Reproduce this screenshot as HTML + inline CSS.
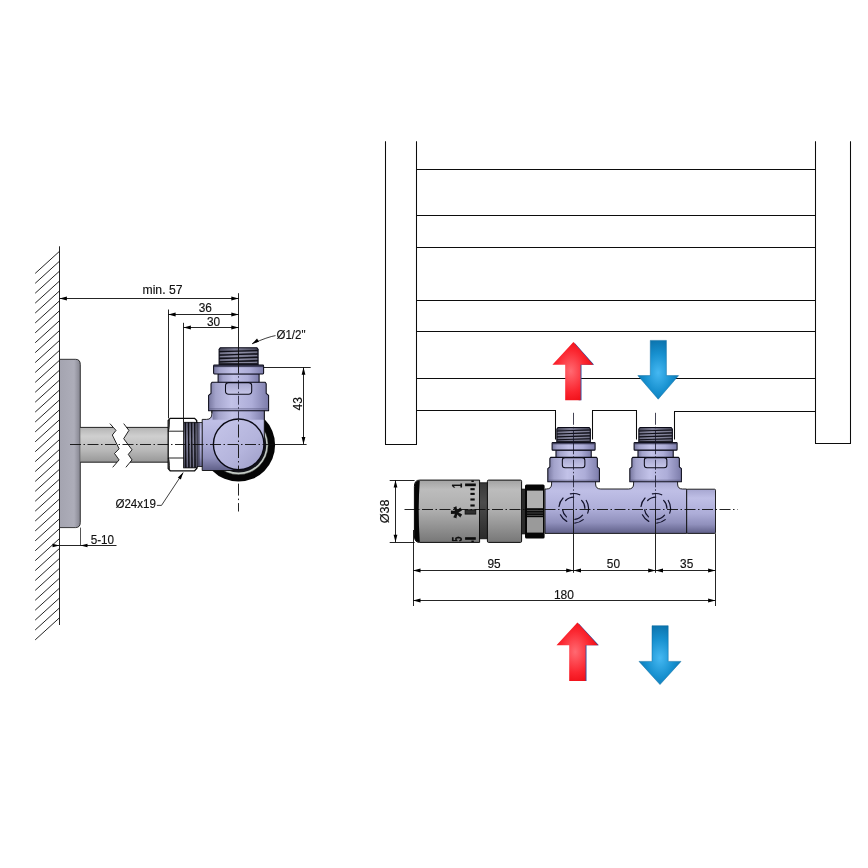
<!DOCTYPE html>
<html><head><meta charset="utf-8"><title>Rozměry ventilu</title>
<style>
html,body{margin:0;padding:0;background:#fff;}
svg{display:block;}
text{font-family:"Liberation Sans","DejaVu Sans",sans-serif;fill:#111;stroke:#111;stroke-width:0.15px;filter:grayscale(1);}
</style></head><body>
<svg width="868" height="868" viewBox="0 0 868 868">
<defs>
<linearGradient id="lavH" x1="0" y1="0" x2="1" y2="0">
 <stop offset="0" stop-color="#77779f"/><stop offset="0.12" stop-color="#a3a3cb"/><stop offset="0.38" stop-color="#c2c2e8"/><stop offset="0.72" stop-color="#adadd8"/><stop offset="1" stop-color="#7c7caa"/>
</linearGradient>
<linearGradient id="lavV" x1="0" y1="0" x2="0" y2="1">
 <stop offset="0" stop-color="#a6a6d0"/><stop offset="0.2" stop-color="#bfbfe6"/><stop offset="0.55" stop-color="#adadd8"/><stop offset="0.8" stop-color="#9090bc"/><stop offset="1" stop-color="#5f5f88"/>
</linearGradient>
<linearGradient id="slotV" x1="0" y1="0" x2="0" y2="1">
 <stop offset="0" stop-color="#a6a6cf"/><stop offset="1" stop-color="#c6c6e8"/>
</linearGradient>
<linearGradient id="capG" x1="0" y1="0" x2="1" y2="1">
 <stop offset="0" stop-color="#c6c6ea"/><stop offset="0.6" stop-color="#b4b4dc"/><stop offset="1" stop-color="#9c9cc6"/>
</linearGradient>
<linearGradient id="thrH" x1="0" y1="0" x2="1" y2="0">
 <stop offset="0" stop-color="#454556"/><stop offset="0.4" stop-color="#7e7e96"/><stop offset="1" stop-color="#454556"/>
</linearGradient>
<linearGradient id="thrV" x1="0" y1="0" x2="0" y2="1">
 <stop offset="0" stop-color="#454556"/><stop offset="0.4" stop-color="#7a7a92"/><stop offset="1" stop-color="#3f3f50"/>
</linearGradient>
<linearGradient id="pipeV" x1="0" y1="0" x2="0" y2="1">
 <stop offset="0" stop-color="#b4b4b4"/><stop offset="0.25" stop-color="#cfcfcf"/><stop offset="0.65" stop-color="#b9b9b9"/><stop offset="1" stop-color="#979797"/>
</linearGradient>
<linearGradient id="plateH" x1="0" y1="0" x2="1" y2="0">
 <stop offset="0" stop-color="#a4a4b0"/><stop offset="0.7" stop-color="#adadb9"/><stop offset="1" stop-color="#84848f"/>
</linearGradient>
<linearGradient id="headV" x1="0" y1="0" x2="0" y2="1">
 <stop offset="0" stop-color="#a2a2a2"/><stop offset="0.15" stop-color="#bcbcbc"/><stop offset="0.5" stop-color="#adadad"/><stop offset="1" stop-color="#777"/>
</linearGradient>
<linearGradient id="bandV" x1="0" y1="0" x2="0" y2="1">
 <stop offset="0" stop-color="#383838"/><stop offset="0.35" stop-color="#4c4c4c"/><stop offset="1" stop-color="#2a2a2a"/>
</linearGradient>
<linearGradient id="redH" x1="0" y1="0" x2="1" y2="0">
 <stop offset="0" stop-color="#ee0a12"/><stop offset="0.45" stop-color="#ff5560"/><stop offset="1" stop-color="#e80008"/>
</linearGradient>
<radialGradient id="redR" cx="0.45" cy="0.5" r="0.6">
 <stop offset="0" stop-color="#ff6a72"/><stop offset="0.6" stop-color="#fb2630"/><stop offset="1" stop-color="#ec0810"/>
</radialGradient>
<radialGradient id="blueR" cx="0.5" cy="0.55" r="0.6">
 <stop offset="0" stop-color="#45b8f2"/><stop offset="0.55" stop-color="#1790cf"/><stop offset="1" stop-color="#0a6fa8"/>
</radialGradient>
</defs>
<rect width="868" height="868" fill="#fff"/>

<g id="wall">
<path d="M59.5 251.30 L35.2 273.40 M59.5 261.20 L35.2 283.31 M59.5 271.11 L35.2 293.21 M59.5 281.01 L35.2 303.12 M59.5 290.92 L35.2 313.02 M59.5 300.82 L35.2 322.93 M59.5 310.73 L35.2 332.83 M59.5 320.63 L35.2 342.74 M59.5 330.54 L35.2 352.64 M59.5 340.44 L35.2 362.55 M59.5 350.35 L35.2 372.45 M59.5 360.25 L35.2 382.36 M59.5 370.16 L35.2 392.26 M59.5 380.06 L35.2 402.17 M59.5 389.97 L35.2 412.07 M59.5 399.88 L35.2 421.98 M59.5 409.78 L35.2 431.88 M59.5 419.69 L35.2 441.79 M59.5 429.59 L35.2 451.69 M59.5 439.50 L35.2 461.60 M59.5 449.40 L35.2 471.50 M59.5 459.31 L35.2 481.41 M59.5 469.21 L35.2 491.31 M59.5 479.12 L35.2 501.22 M59.5 489.02 L35.2 511.12 M59.5 498.92 L35.2 521.02 M59.5 508.83 L35.2 530.93 M59.5 518.74 L35.2 540.84 M59.5 528.64 L35.2 550.74 M59.5 538.55 L35.2 560.65 M59.5 548.45 L35.2 570.55 M59.5 558.36 L35.2 580.46 M59.5 568.26 L35.2 590.36 M59.5 578.16 L35.2 600.26 M59.5 588.07 L35.2 610.17 M59.5 597.97 L35.2 620.07 M59.5 607.88 L35.2 629.98 M59.5 617.78 L35.2 639.88" stroke="#0c0c0c" stroke-width="0.9" fill="none"/>
<line x1="59.50" y1="246.30" x2="59.50" y2="625.00" stroke="#0c0c0c" stroke-width="0.9" />
</g>
<path d="M59.5 359.3 H75.5 Q80.3 359.3 80.3 364.5 V522.5 Q80.3 527.6 75.5 527.6 H59.5 Z" fill="url(#plateH)" stroke="#0c0c0c" stroke-width="0.8"/>
<path d="M80.3 427.4 H113 L116 430.4 L112.3 435 L119.1 448.8 L114.5 453.5 L119.1 459.9 L117 462.2 H80.3 Z" fill="url(#pipeV)" stroke="none"/>
<path d="M126.4 427.4 H168.2 V462.2 H130 L132 459.9 L128.3 454.4 L132 449.8 L123.7 438.7 L128.9 430.4 Z" fill="url(#pipeV)" stroke="none"/>
<path d="M80.3 427.4 H113 M80.3 462.2 H117 M126.4 427.4 H168.2 M130 462.2 H168.2" stroke="#0c0c0c" stroke-width="0.9" fill="none"/>
<path d="M109.9 423.6 L116 430.4 L112.3 435 L119.1 448.8 L114.5 453.5 L119.1 459.9 L112.7 467.3" stroke="#0c0c0c" stroke-width="0.9" fill="none"/>
<path d="M123.7 423.6 L128.9 430.4 L123.7 438.7 L132 449.8 L128.3 454.4 L132 459.9 L125.9 467.3" stroke="#0c0c0c" stroke-width="0.9" fill="none"/>
<path d="M170.2 418.4 H194.6 L196.7 420.6 V468.6 L194.6 470.8 H170.2 L168.2 468.6 V420.6 Z" fill="#fff" stroke="#0c0c0c" stroke-width="1.3"/>
<path d="M168.2 431.2 H184 M168.2 458 H184 M168.2 431.2 Q169.6 429 169.4 420 M168.2 458 Q169.6 460 169.4 469.4" stroke="#0c0c0c" stroke-width="0.9" fill="none"/>
<rect x="183.6" y="422.3" width="13.6" height="45.6" fill="url(#thrV)" stroke="#0c0c0c" stroke-width="0.8"/>
<line x1="185.4" y1="422.3" x2="185.8" y2="467.9" stroke="#101016" stroke-width="1.4"/>
<line x1="186.95000000000002" y1="423.4" x2="187.35" y2="466.9" stroke="#8c8ca4" stroke-width="0.8" opacity="0.75"/>
<line x1="188.5" y1="422.3" x2="188.9" y2="467.9" stroke="#101016" stroke-width="1.4"/>
<line x1="190.05" y1="423.4" x2="190.45" y2="466.9" stroke="#8c8ca4" stroke-width="0.8" opacity="0.75"/>
<line x1="191.6" y1="422.3" x2="192.0" y2="467.9" stroke="#101016" stroke-width="1.4"/>
<line x1="193.15" y1="423.4" x2="193.54999999999998" y2="466.9" stroke="#8c8ca4" stroke-width="0.8" opacity="0.75"/>
<line x1="194.7" y1="422.3" x2="195.1" y2="467.9" stroke="#101016" stroke-width="1.4"/>
<line x1="196.25" y1="423.4" x2="196.64999999999998" y2="466.9" stroke="#8c8ca4" stroke-width="0.8" opacity="0.75"/>
<rect x="197.2" y="422.4" width="5.2" height="44.2" fill="url(#lavV)" stroke="#0c0c0c" stroke-width="0.8"/>
<rect x="197.5" y="422.8" width="2.2" height="43.4" fill="#3c3c50" opacity="0.75"/>
<circle cx="238.5" cy="445.0" r="36.6" fill="#050505"/>
<circle cx="238.5" cy="445.0" r="29.7" fill="#c3cbc4" stroke="#1a1a1a" stroke-width="0.5"/>
<circle cx="238.6" cy="444.8" r="27.7" fill="#15151c"/>
<path d="M202.2 419.4 H206.6 Q211.9 419.4 211.9 413.5 V409 H264.3 V444.3 A25.6 25.6 0 0 1 238.7 469.9 L234 470.5 H202.2 Z" fill="url(#lavV)" stroke="#0c0c0c" stroke-width="0.9" stroke-linejoin="round"/>
<g transform="translate(238.60 347.70) scale(1.0)" stroke="#0b0b18" stroke-width="1.05" stroke-linejoin="round">
<rect x="-26" y="60" width="52" height="12.0" fill="url(#lavH)" stroke="none"/>
<path d="M-18.2 0 H18.2 L19.5 1.6 V17.4 H-19.5 V1.6 Z" fill="url(#thrH)"/>
<path d="M-19.5 4.0 L19.5 2.8" stroke="#101018" stroke-width="1.3" fill="none"/>
<path d="M-18.5 5.6 L18.5 4.4" stroke="#9a9ab2" stroke-width="0.9" fill="none" opacity="0.8"/>
<path d="M-19.5 7.4 L19.5 6.2" stroke="#101018" stroke-width="1.3" fill="none"/>
<path d="M-18.5 9.0 L18.5 7.8" stroke="#9a9ab2" stroke-width="0.9" fill="none" opacity="0.8"/>
<path d="M-19.5 10.8 L19.5 9.6" stroke="#101018" stroke-width="1.3" fill="none"/>
<path d="M-18.5 12.4 L18.5 11.2" stroke="#9a9ab2" stroke-width="0.9" fill="none" opacity="0.8"/>
<path d="M-19.5 14.2 L19.5 13.0" stroke="#101018" stroke-width="1.3" fill="none"/>
<path d="M-18.5 15.8 L18.5 14.6" stroke="#9a9ab2" stroke-width="0.9" fill="none" opacity="0.8"/>
<rect x="-19.5" y="15.4" width="39" height="2.2" fill="#1d1d26" stroke="none"/>
<rect x="-20.5" y="26" width="41" height="9" fill="url(#lavH)"/>
<rect x="-25" y="17.4" width="50" height="8.8" rx="0.8" fill="url(#lavH)"/>
<rect x="-24.6" y="17.6" width="49.2" height="1.8" fill="#2c2c44" stroke="none" opacity="0.8"/>
<path d="M-26.6 34.6 H26.6 L27.6 36 V45.6 L30 47.6 V63 H-30 V47.6 L-27.6 45.6 V36 Z" fill="url(#lavH)"/>
<path d="M-30 61.2 H30" stroke="#55557a" stroke-width="0.7" fill="none"/>
<rect x="-13.1" y="34.9" width="26.2" height="11.7" rx="3.2" fill="url(#slotV)"/>
</g>
<path d="M211.9 410.7 V413.5 M264.3 410.7 V420" stroke="#0c0c0c" stroke-width="0.9"/>
<circle cx="238.7" cy="444.3" r="25.3" fill="url(#capG)" stroke="#0a0a14" stroke-width="1.4"/>
<line x1="70.00" y1="444.50" x2="264.00" y2="444.50" stroke="#0c0c0c" stroke-width="0.9" stroke-dasharray="11 2.5 1.5 2.5"/>
<line x1="238.50" y1="293.20" x2="238.50" y2="373.50" stroke="#0c0c0c" stroke-width="0.9" />
<line x1="238.50" y1="376.20" x2="238.50" y2="419.00" stroke="#15152a" stroke-width="0.8" stroke-dasharray="1.5 2.5 9 2.5"/>
<line x1="238.50" y1="419.00" x2="238.50" y2="470.00" stroke="#0c0c0c" stroke-width="0.9" stroke-dasharray="1.5 3 13 3" stroke-dashoffset="-1"/>
<line x1="238.50" y1="483.60" x2="238.50" y2="511.50" stroke="#0c0c0c" stroke-width="0.9" stroke-dasharray="12 3 1.5 3"/>
<line x1="59.50" y1="298.50" x2="238.70" y2="298.50" stroke="#0c0c0c" stroke-width="0.9" />
<polygon points="59.50,298.50 66.90,296.60 66.90,300.40" fill="#000"/>
<polygon points="238.70,298.50 231.30,300.40 231.30,296.60" fill="#000"/>
<text x="162.50" y="294.30" font-size="12" text-anchor="middle" textLength="40" lengthAdjust="spacingAndGlyphs">min. 57</text>
<line x1="168.50" y1="309.50" x2="168.50" y2="418.40" stroke="#0c0c0c" stroke-width="0.9" />
<line x1="168.20" y1="314.50" x2="238.70" y2="314.50" stroke="#0c0c0c" stroke-width="0.9" />
<polygon points="168.20,314.50 175.60,312.60 175.60,316.40" fill="#000"/>
<polygon points="238.70,314.50 231.30,316.40 231.30,312.60" fill="#000"/>
<text x="205.30" y="311.80" font-size="12" text-anchor="middle" textLength="13.2" lengthAdjust="spacingAndGlyphs">36</text>
<line x1="183.50" y1="322.80" x2="183.50" y2="422.20" stroke="#0c0c0c" stroke-width="0.9" />
<line x1="183.50" y1="327.50" x2="238.70" y2="327.50" stroke="#0c0c0c" stroke-width="0.9" />
<polygon points="183.50,327.50 190.90,325.60 190.90,329.40" fill="#000"/>
<polygon points="238.70,327.50 231.30,329.40 231.30,325.60" fill="#000"/>
<text x="213.50" y="326.10" font-size="12" text-anchor="middle" textLength="13.2" lengthAdjust="spacingAndGlyphs">30</text>
<line x1="264.00" y1="367.50" x2="310.70" y2="367.50" stroke="#0c0c0c" stroke-width="0.9" />
<line x1="264.50" y1="444.50" x2="306.60" y2="444.50" stroke="#0c0c0c" stroke-width="0.9" />
<line x1="303.50" y1="367.30" x2="303.50" y2="444.30" stroke="#0c0c0c" stroke-width="0.9" />
<polygon points="303.50,367.30 305.40,374.70 301.60,374.70" fill="#000"/>
<polygon points="303.50,444.30 301.60,436.90 305.40,436.90" fill="#000"/>
<text x="302.40" y="403.70" font-size="12.5" text-anchor="middle" transform="rotate(-90 302.40 403.70)" textLength="13.4" lengthAdjust="spacingAndGlyphs">43</text>
<text x="276.50" y="339.30" font-size="12" text-anchor="start" textLength="29" lengthAdjust="spacingAndGlyphs">Ø1/2"</text>
<path d="M275.5 335.6 Q268 336.8 252 343.8" stroke="#0c0c0c" stroke-width="0.8" fill="none"/>
<polygon points="252.00,343.80 257.04,338.58 258.99,341.85" fill="#000"/>
<text x="115.40" y="507.60" font-size="12" text-anchor="start" textLength="40.6" lengthAdjust="spacingAndGlyphs">Ø24x19</text>
<path d="M156.9 505.4 H161.5 L183.2 472.6" stroke="#0c0c0c" stroke-width="0.8" fill="none"/>
<polygon points="183.20,472.60 180.84,479.43 177.84,477.44" fill="#000"/>
<line x1="80.50" y1="527.60" x2="80.50" y2="545.20" stroke="#0c0c0c" stroke-width="0.7" />
<line x1="53.50" y1="545.50" x2="116.50" y2="545.50" stroke="#0c0c0c" stroke-width="0.9" />
<polygon points="59.50,545.50 52.50,547.30 52.50,543.70" fill="#000"/>
<polygon points="80.50,545.50 87.50,543.70 87.50,547.30" fill="#000"/>
<text x="102.40" y="543.80" font-size="12" text-anchor="middle" textLength="23.4" lengthAdjust="spacingAndGlyphs">5-10</text>
<path d="M385.5 141.2 V444.5 H416.5 V141.2 M815.5 141.2 V443.5 H850.5 V141.2" stroke="#0c0c0c" stroke-width="1.05" fill="none"/>
<line x1="416.50" y1="169.50" x2="815.50" y2="169.50" stroke="#0c0c0c" stroke-width="1.05" />
<line x1="416.50" y1="215.50" x2="815.50" y2="215.50" stroke="#0c0c0c" stroke-width="1.05" />
<line x1="416.50" y1="247.50" x2="815.50" y2="247.50" stroke="#0c0c0c" stroke-width="1.05" />
<line x1="416.50" y1="300.50" x2="815.50" y2="300.50" stroke="#0c0c0c" stroke-width="1.05" />
<line x1="416.50" y1="331.50" x2="815.50" y2="331.50" stroke="#0c0c0c" stroke-width="1.05" />
<line x1="416.50" y1="378.50" x2="815.50" y2="378.50" stroke="#0c0c0c" stroke-width="1.05" />
<path d="M416.5 410.5 H555.5 V439.5 M592.5 439.5 V410.5 H636.5 V439.5 M674.5 439.5 V411.5 H815.5" stroke="#0c0c0c" stroke-width="1.05" fill="none"/>
<path d="M419.5 480.1 H479.6 V542.4 H419.5 Q414.4 542.4 414.4 536 V486.4 Q414.4 480.1 419.5 480.1 Z" fill="url(#headV)" stroke="#0c0c0c" stroke-width="1"/>
<path d="M419.8 480.4 Q414.6 480.4 414.6 486.4 V536 Q414.6 542 419.8 542 Q417.6 511 419.8 480.4 Z" fill="#050505"/>
<rect x="479.6" y="482.8" width="7.8" height="56" fill="url(#bandV)" stroke="#0c0c0c" stroke-width="0.8"/>
<rect x="487.4" y="480.1" width="34.2" height="62.3" rx="1.2" fill="url(#headV)" stroke="#0c0c0c" stroke-width="1"/>
<g fill="#0b0b0b">
<rect x="465.1" y="483.5" width="10.7" height="2.7"/>
<rect x="465.1" y="537.2" width="10.7" height="2.6"/>
<rect x="465.1" y="509.8" width="10.7" height="4.3" fill="#2e2e2e" stroke="#0b0b0b" stroke-width="0.8"/>
<rect x="470.4" y="488.15" width="4.3" height="2.1"/>
<rect x="470.4" y="492.85" width="4.3" height="2.1"/>
<rect x="470.4" y="498.45" width="4.3" height="2.1"/>
<rect x="470.4" y="504.45" width="4.3" height="2.1"/>
<rect x="471.4" y="480.4" width="2.4" height="1.6"/>
<rect x="471.4" y="540.6" width="2.4" height="1.4"/>
</g>
<clipPath id="hc"><rect x="414" y="480" width="66" height="61.8"/></clipPath>
<g clip-path="url(#hc)" font-weight="bold" text-anchor="middle">
<text x="0" y="0" font-size="15.5" transform="translate(462.4 485.6) rotate(-90) scale(0.55 1)">1</text>
<text x="0" y="0" font-size="15.5" transform="translate(462.2 539.2) rotate(-90) scale(0.6 1)">5</text>
<text x="0" y="0" font-size="30" transform="translate(455.2 512.4) rotate(-90) translate(0 16.2)">*</text>
</g>
<rect x="521.6" y="489" width="4" height="45" fill="#2a2a2a" stroke="#0c0c0c" stroke-width="0.6"/>
<rect x="525" y="484.4" width="19.6" height="54" rx="1.5" fill="#060606"/>
<rect x="527" y="490.6" width="16" height="17.6" fill="#b0b0b0"/>
<rect x="527" y="517.2" width="16" height="15.4" fill="#9a9a9a"/>
<path d="M527 510.6 H543 M527 513 H543 M527 515.4 H543" stroke="#666" stroke-width="0.7"/>
<path d="M545 489.0 H546.5 Q551.6 489.0 551.6 484 V480 H595.6 V484 Q595.6 489.0 600.8 489.0 H628.4 Q633.6 489.0 633.6 484 V480 H677.6 V484 Q677.6 489.0 682.6 489.0 H686.7 V533.4 H545 Z" fill="url(#lavV)" stroke="#0c0c0c" stroke-width="0.9" stroke-linejoin="round"/>
<rect x="686.7" y="489.2" width="28.8" height="44.2" rx="1" fill="url(#lavV)" stroke="#0c0c0c" stroke-width="0.9"/>
<g transform="translate(573.60 427.60) scale(0.86)" stroke="#0b0b18" stroke-width="1.22" stroke-linejoin="round">
<rect x="-26" y="60" width="52" height="0.0" fill="url(#lavH)" stroke="none"/>
<path d="M-18.2 0 H18.2 L19.5 1.6 V17.4 H-19.5 V1.6 Z" fill="url(#thrH)"/>
<path d="M-19.5 4.0 L19.5 2.8" stroke="#101018" stroke-width="1.3" fill="none"/>
<path d="M-18.5 5.6 L18.5 4.4" stroke="#9a9ab2" stroke-width="0.9" fill="none" opacity="0.8"/>
<path d="M-19.5 7.4 L19.5 6.2" stroke="#101018" stroke-width="1.3" fill="none"/>
<path d="M-18.5 9.0 L18.5 7.8" stroke="#9a9ab2" stroke-width="0.9" fill="none" opacity="0.8"/>
<path d="M-19.5 10.8 L19.5 9.6" stroke="#101018" stroke-width="1.3" fill="none"/>
<path d="M-18.5 12.4 L18.5 11.2" stroke="#9a9ab2" stroke-width="0.9" fill="none" opacity="0.8"/>
<path d="M-19.5 14.2 L19.5 13.0" stroke="#101018" stroke-width="1.3" fill="none"/>
<path d="M-18.5 15.8 L18.5 14.6" stroke="#9a9ab2" stroke-width="0.9" fill="none" opacity="0.8"/>
<rect x="-19.5" y="15.4" width="39" height="2.2" fill="#1d1d26" stroke="none"/>
<rect x="-20.5" y="26" width="41" height="9" fill="url(#lavH)"/>
<rect x="-25" y="17.4" width="50" height="8.8" rx="0.8" fill="url(#lavH)"/>
<rect x="-24.6" y="17.6" width="49.2" height="1.8" fill="#2c2c44" stroke="none" opacity="0.8"/>
<path d="M-26.6 34.6 H26.6 L27.6 36 V45.6 L30 47.6 V63 H-30 V47.6 L-27.6 45.6 V36 Z" fill="url(#lavH)"/>
<path d="M-30 61.2 H30" stroke="#55557a" stroke-width="0.7" fill="none"/>
<rect x="-13.1" y="34.9" width="26.2" height="11.7" rx="3.2" fill="url(#slotV)"/>
</g>
<g transform="translate(655.60 427.60) scale(0.86)" stroke="#0b0b18" stroke-width="1.22" stroke-linejoin="round">
<rect x="-26" y="60" width="52" height="0.0" fill="url(#lavH)" stroke="none"/>
<path d="M-18.2 0 H18.2 L19.5 1.6 V17.4 H-19.5 V1.6 Z" fill="url(#thrH)"/>
<path d="M-19.5 4.0 L19.5 2.8" stroke="#101018" stroke-width="1.3" fill="none"/>
<path d="M-18.5 5.6 L18.5 4.4" stroke="#9a9ab2" stroke-width="0.9" fill="none" opacity="0.8"/>
<path d="M-19.5 7.4 L19.5 6.2" stroke="#101018" stroke-width="1.3" fill="none"/>
<path d="M-18.5 9.0 L18.5 7.8" stroke="#9a9ab2" stroke-width="0.9" fill="none" opacity="0.8"/>
<path d="M-19.5 10.8 L19.5 9.6" stroke="#101018" stroke-width="1.3" fill="none"/>
<path d="M-18.5 12.4 L18.5 11.2" stroke="#9a9ab2" stroke-width="0.9" fill="none" opacity="0.8"/>
<path d="M-19.5 14.2 L19.5 13.0" stroke="#101018" stroke-width="1.3" fill="none"/>
<path d="M-18.5 15.8 L18.5 14.6" stroke="#9a9ab2" stroke-width="0.9" fill="none" opacity="0.8"/>
<rect x="-19.5" y="15.4" width="39" height="2.2" fill="#1d1d26" stroke="none"/>
<rect x="-20.5" y="26" width="41" height="9" fill="url(#lavH)"/>
<rect x="-25" y="17.4" width="50" height="8.8" rx="0.8" fill="url(#lavH)"/>
<rect x="-24.6" y="17.6" width="49.2" height="1.8" fill="#2c2c44" stroke="none" opacity="0.8"/>
<path d="M-26.6 34.6 H26.6 L27.6 36 V45.6 L30 47.6 V63 H-30 V47.6 L-27.6 45.6 V36 Z" fill="url(#lavH)"/>
<path d="M-30 61.2 H30" stroke="#55557a" stroke-width="0.7" fill="none"/>
<rect x="-13.1" y="34.9" width="26.2" height="11.7" rx="3.2" fill="url(#slotV)"/>
</g>
<path d="M570.37 493.88 A14.8 14.8 0 0 1 579.72 494.78 M559.01 506.50 A14.8 14.8 0 0 1 563.05 498.02 M586.25 500.46 A14.8 14.8 0 0 1 587.69 513.12 M583.21 519.64 A14.8 14.8 0 0 1 574.73 523.06 M566.75 521.37 A14.8 14.8 0 0 1 560.40 514.79 M565.64 500.52 A11.2 11.2 0 0 1 573.70 497.10 M581.62 500.38 A11.2 11.2 0 0 1 584.90 508.30 M582.53 515.20 A11.2 11.2 0 0 1 574.87 519.44 M566.50 516.88 A11.2 11.2 0 0 1 562.61 509.86" fill="none" stroke="#12122a" stroke-width="1.2" stroke-linecap="round"/>
<path d="M652.37 493.88 A14.8 14.8 0 0 1 661.72 494.78 M641.01 506.50 A14.8 14.8 0 0 1 645.05 498.02 M668.25 500.46 A14.8 14.8 0 0 1 669.69 513.12 M665.21 519.64 A14.8 14.8 0 0 1 656.73 523.06 M648.75 521.37 A14.8 14.8 0 0 1 642.40 514.79 M647.64 500.52 A11.2 11.2 0 0 1 655.70 497.10 M663.62 500.38 A11.2 11.2 0 0 1 666.90 508.30 M664.53 515.20 A11.2 11.2 0 0 1 656.87 519.44 M648.50 516.88 A11.2 11.2 0 0 1 644.61 509.86" fill="none" stroke="#12122a" stroke-width="1.2" stroke-linecap="round"/>
<line x1="404.50" y1="509.50" x2="737.50" y2="509.50" stroke="#0c0c0c" stroke-width="0.9" stroke-dasharray="11 2.5 1.5 2.5"/>
<line x1="573.50" y1="412.80" x2="573.50" y2="509.80" stroke="#15152a" stroke-width="0.8" stroke-dasharray="12 2 1.5 2 24 2 1.5 2 10 2 1.5 2"/>
<line x1="573.50" y1="509.80" x2="573.50" y2="572.80" stroke="#0c0c0c" stroke-width="0.9" />
<line x1="655.50" y1="412.80" x2="655.50" y2="509.80" stroke="#15152a" stroke-width="0.8" stroke-dasharray="12 2 1.5 2 24 2 1.5 2 10 2 1.5 2"/>
<line x1="655.50" y1="509.80" x2="655.50" y2="572.80" stroke="#0c0c0c" stroke-width="0.9" />
<line x1="389.70" y1="480.50" x2="414.60" y2="480.50" stroke="#0c0c0c" stroke-width="0.9" />
<line x1="389.70" y1="542.50" x2="414.60" y2="542.50" stroke="#0c0c0c" stroke-width="0.9" />
<line x1="395.50" y1="480.20" x2="395.50" y2="542.20" stroke="#0c0c0c" stroke-width="0.9" />
<polygon points="395.50,480.20 397.40,487.60 393.60,487.60" fill="#000"/>
<polygon points="395.50,542.20 393.60,534.80 397.40,534.80" fill="#000"/>
<text x="388.90" y="511.40" font-size="12.5" text-anchor="middle" transform="rotate(-90 388.90 511.40)" textLength="23.8" lengthAdjust="spacingAndGlyphs">Ø38</text>
<line x1="413.50" y1="530.00" x2="413.50" y2="606.00" stroke="#0c0c0c" stroke-width="0.9" />
<line x1="715.50" y1="533.40" x2="715.50" y2="606.00" stroke="#0c0c0c" stroke-width="0.9" />
<line x1="413.10" y1="570.50" x2="573.60" y2="570.50" stroke="#0c0c0c" stroke-width="0.9" />
<polygon points="413.10,570.50 420.50,568.60 420.50,572.40" fill="#000"/>
<polygon points="573.60,570.50 566.20,572.40 566.20,568.60" fill="#000"/>
<line x1="573.60" y1="570.50" x2="655.60" y2="570.50" stroke="#0c0c0c" stroke-width="0.9" />
<polygon points="573.60,570.50 581.00,568.60 581.00,572.40" fill="#000"/>
<polygon points="655.60,570.50 648.20,572.40 648.20,568.60" fill="#000"/>
<line x1="655.60" y1="570.50" x2="715.50" y2="570.50" stroke="#0c0c0c" stroke-width="0.9" />
<polygon points="655.60,570.50 663.00,568.60 663.00,572.40" fill="#000"/>
<polygon points="715.50,570.50 708.10,572.40 708.10,568.60" fill="#000"/>
<line x1="413.10" y1="600.50" x2="715.50" y2="600.50" stroke="#0c0c0c" stroke-width="0.9" />
<polygon points="413.10,600.50 420.50,598.60 420.50,602.40" fill="#000"/>
<polygon points="715.50,600.50 708.10,602.40 708.10,598.60" fill="#000"/>
<text x="494.00" y="567.80" font-size="12" text-anchor="middle" textLength="13.2" lengthAdjust="spacingAndGlyphs">95</text>
<text x="613.40" y="567.80" font-size="12" text-anchor="middle" textLength="13.2" lengthAdjust="spacingAndGlyphs">50</text>
<text x="686.70" y="567.80" font-size="12" text-anchor="middle" textLength="13.2" lengthAdjust="spacingAndGlyphs">35</text>
<text x="563.90" y="598.60" font-size="12" text-anchor="middle" textLength="20" lengthAdjust="spacingAndGlyphs">180</text>
<polygon points="574.3,342.5 594.1,364.8 581.5,364.8 581.5,400.3 578.6,400.3 578.6,361.8" fill="#2a4ea0"/>
<polygon points="573.4,342 593.2,364.8 580.6,364.8 580.6,400.3 565.2,400.3 565.2,364.8 552.4,364.8" fill="url(#redR)"/>
<polygon points="650.3,340.4 666.4,340.4 666.4,375.6 678.6,375.6 658.2,399.2 637.8,375.6 650.3,375.6" fill="url(#blueR)" stroke="#0b6aa0" stroke-width="0.5" stroke-linejoin="round"/>
<polygon points="578.3,623.1 598.9,645.2 586.5,645.2 586.5,681.0 583.6,681.0 583.6,642.2" fill="#2a4ea0"/>
<polygon points="577.4,622.6 598,645.2 585.6,645.2 585.6,681 569.2,681 569.2,645.2 556.5,645.2" fill="url(#redR)"/>
<polygon points="652,625.7 668.2,625.7 668.2,661.4 681,661.4 660,684.6 639,661.4 652,661.4" fill="url(#blueR)" stroke="#0b6aa0" stroke-width="0.5" stroke-linejoin="round"/>
</svg></body></html>
